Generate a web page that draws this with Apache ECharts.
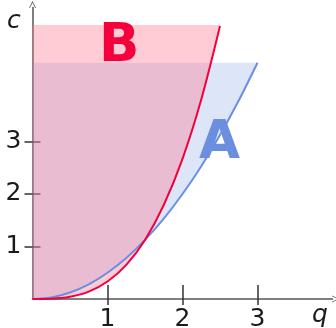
<!DOCTYPE html>
<html><head><meta charset="utf-8">
<script src="https://cdn.jsdelivr.net/npm/echarts@6/dist/echarts.min.js"></script>
<style>html,body{margin:0;padding:0;background:#fff}#c{width:336px;height:328px}</style>
</head><body><div id="c"></div>
<script>
// curve A (blue): q vs c
const qA = [0, 0.25, 0.5, 0.75, 1, 1.25, 1.5, 1.75, 2, 2.25, 2.5, 2.75, 3];
const cA = [0, 0.03, 0.125, 0.28, 0.5, 0.78, 1.125, 1.53, 2.0, 2.53, 3.125, 3.78, 4.5];
// curve B (red)
const qB = [0, 0.25, 0.5, 0.75, 1, 1.25, 1.5, 1.75, 2, 2.25, 2.5];
const cB = [0, 0.005, 0.042, 0.14, 0.333, 0.65, 1.125, 1.79, 2.67, 3.8, 5.2];
// upper limits of shaded bands
const topA = 4.5;
const topB = 5.22;
// ticks
const xTicks = [1, 2, 3];
const yTicks = [1, 2, 3];

const FONT = 'DejaVu Sans';
const axisCol = '#555';
const blue = '#6b8ee0';
const red = '#f2003c';

const ptsA = qA.map((q, i) => [q, cA[i]]);
const ptsB = qB.map((q, i) => [q, cB[i]]);

function bandSeries(qs, cs, top, fill) {
  return {
    type: 'custom', xAxisIndex: 0, yAxisIndex: 0, z: 2, silent: true,
    data: [[qs[0], cs[0]]],
    renderItem: function (params, api) {
      const pts = qs.map((q, i) => api.coord([q, cs[i]]));
      pts.push(api.coord([qs[qs.length - 1], top]));
      pts.push(api.coord([qs[0], top]));
      return { type: 'polygon', shape: { points: pts }, style: { fill: fill, stroke: null } };
    }
  };
}

const arrow = 'path://M0,10 L5,0 L10,10 L8.8,10 L5,2.4 L1.2,10 Z';

const chart = echarts.init(document.getElementById('c'));
chart.setOption({
  animation: false,
  grid: { left: 32.5, width: 300, top: 7.6, height: 291.4, containLabel: false, outerBoundsMode: 'none' },
  xAxis: [{
    type: 'value', min: 0, max: 4,
    axisLine: { show: true, lineStyle: { color: axisCol, width: 1.5 }, symbol: ['none', arrow], symbolSize: [10, 7], symbolOffset: [0, 3] },
    axisTick: { show: true, inside: true, length: 14, customValues: xTicks, lineStyle: { color: '#333', width: 1.5 } },
    axisLabel: { show: true, customValues: xTicks, margin: 8, fontSize: 25, fontFamily: FONT, color: '#1a1a1a' },
    splitLine: { show: false }
  }, {
    type: 'value', min: 0, max: 4, position: 'bottom',
    axisLine: { show: false },
    axisTick: { show: true, inside: false, length: 6, customValues: xTicks, lineStyle: { color: '#333', width: 1.5 } },
    axisLabel: { show: false },
    splitLine: { show: false }
  }],
  yAxis: [{
    type: 'value', min: 0, max: 5.55,
    axisLine: { show: true, lineStyle: { color: axisCol, width: 1.5 }, symbol: ['none', arrow], symbolSize: [10, 7], symbolOffset: [0, 3] },
    axisTick: { show: true, inside: false, length: 8, customValues: yTicks, lineStyle: { color: '#333', width: 1.5 } },
    axisLabel: { show: true, customValues: yTicks, margin: 11, fontSize: 25, fontFamily: FONT, color: '#1a1a1a' },
    splitLine: { show: false }
  }, {
    type: 'value', min: 0, max: 5.55, position: 'left',
    axisLine: { show: false },
    axisTick: { show: true, inside: true, length: 8, customValues: yTicks, lineStyle: { color: '#333', width: 1.5 } },
    axisLabel: { show: false },
    splitLine: { show: false }
  }],
  series: [
    bandSeries(qA, cA, topA, 'rgba(107,142,227,0.23)'),
    bandSeries(qB, cB, topB, 'rgba(255,124,150,0.39)'),
    { type: 'line', data: ptsA, smooth: 0.3, showSymbol: false, lineStyle: { color: blue, width: 2 }, z: 3 },
    { type: 'line', data: ptsB, smooth: 0.3, showSymbol: false, lineStyle: { color: red, width: 2 }, z: 4 }
  ],
  graphic: [
    { type: 'text', left: 99, top: 21, z: 10, style: { text: 'B', fontSize: 53, fontWeight: 'bold', fontFamily: FONT, fill: '#f5003d' } },
    { type: 'text', left: 199, top: 118, z: 10, style: { text: 'A', fontSize: 53, fontWeight: 'bold', fontFamily: FONT, fill: blue } },
    { type: 'text', left: 7, top: 9, z: 10, style: { text: 'c', fontSize: 25, fontStyle: 'italic', fontFamily: FONT, fill: '#1a1a1a' } },
    { type: 'text', left: 312, top: 303, z: 10, style: { text: 'q', fontSize: 25, fontStyle: 'italic', fontFamily: FONT, fill: '#1a1a1a' } }
  ]
});
</script></body></html>
